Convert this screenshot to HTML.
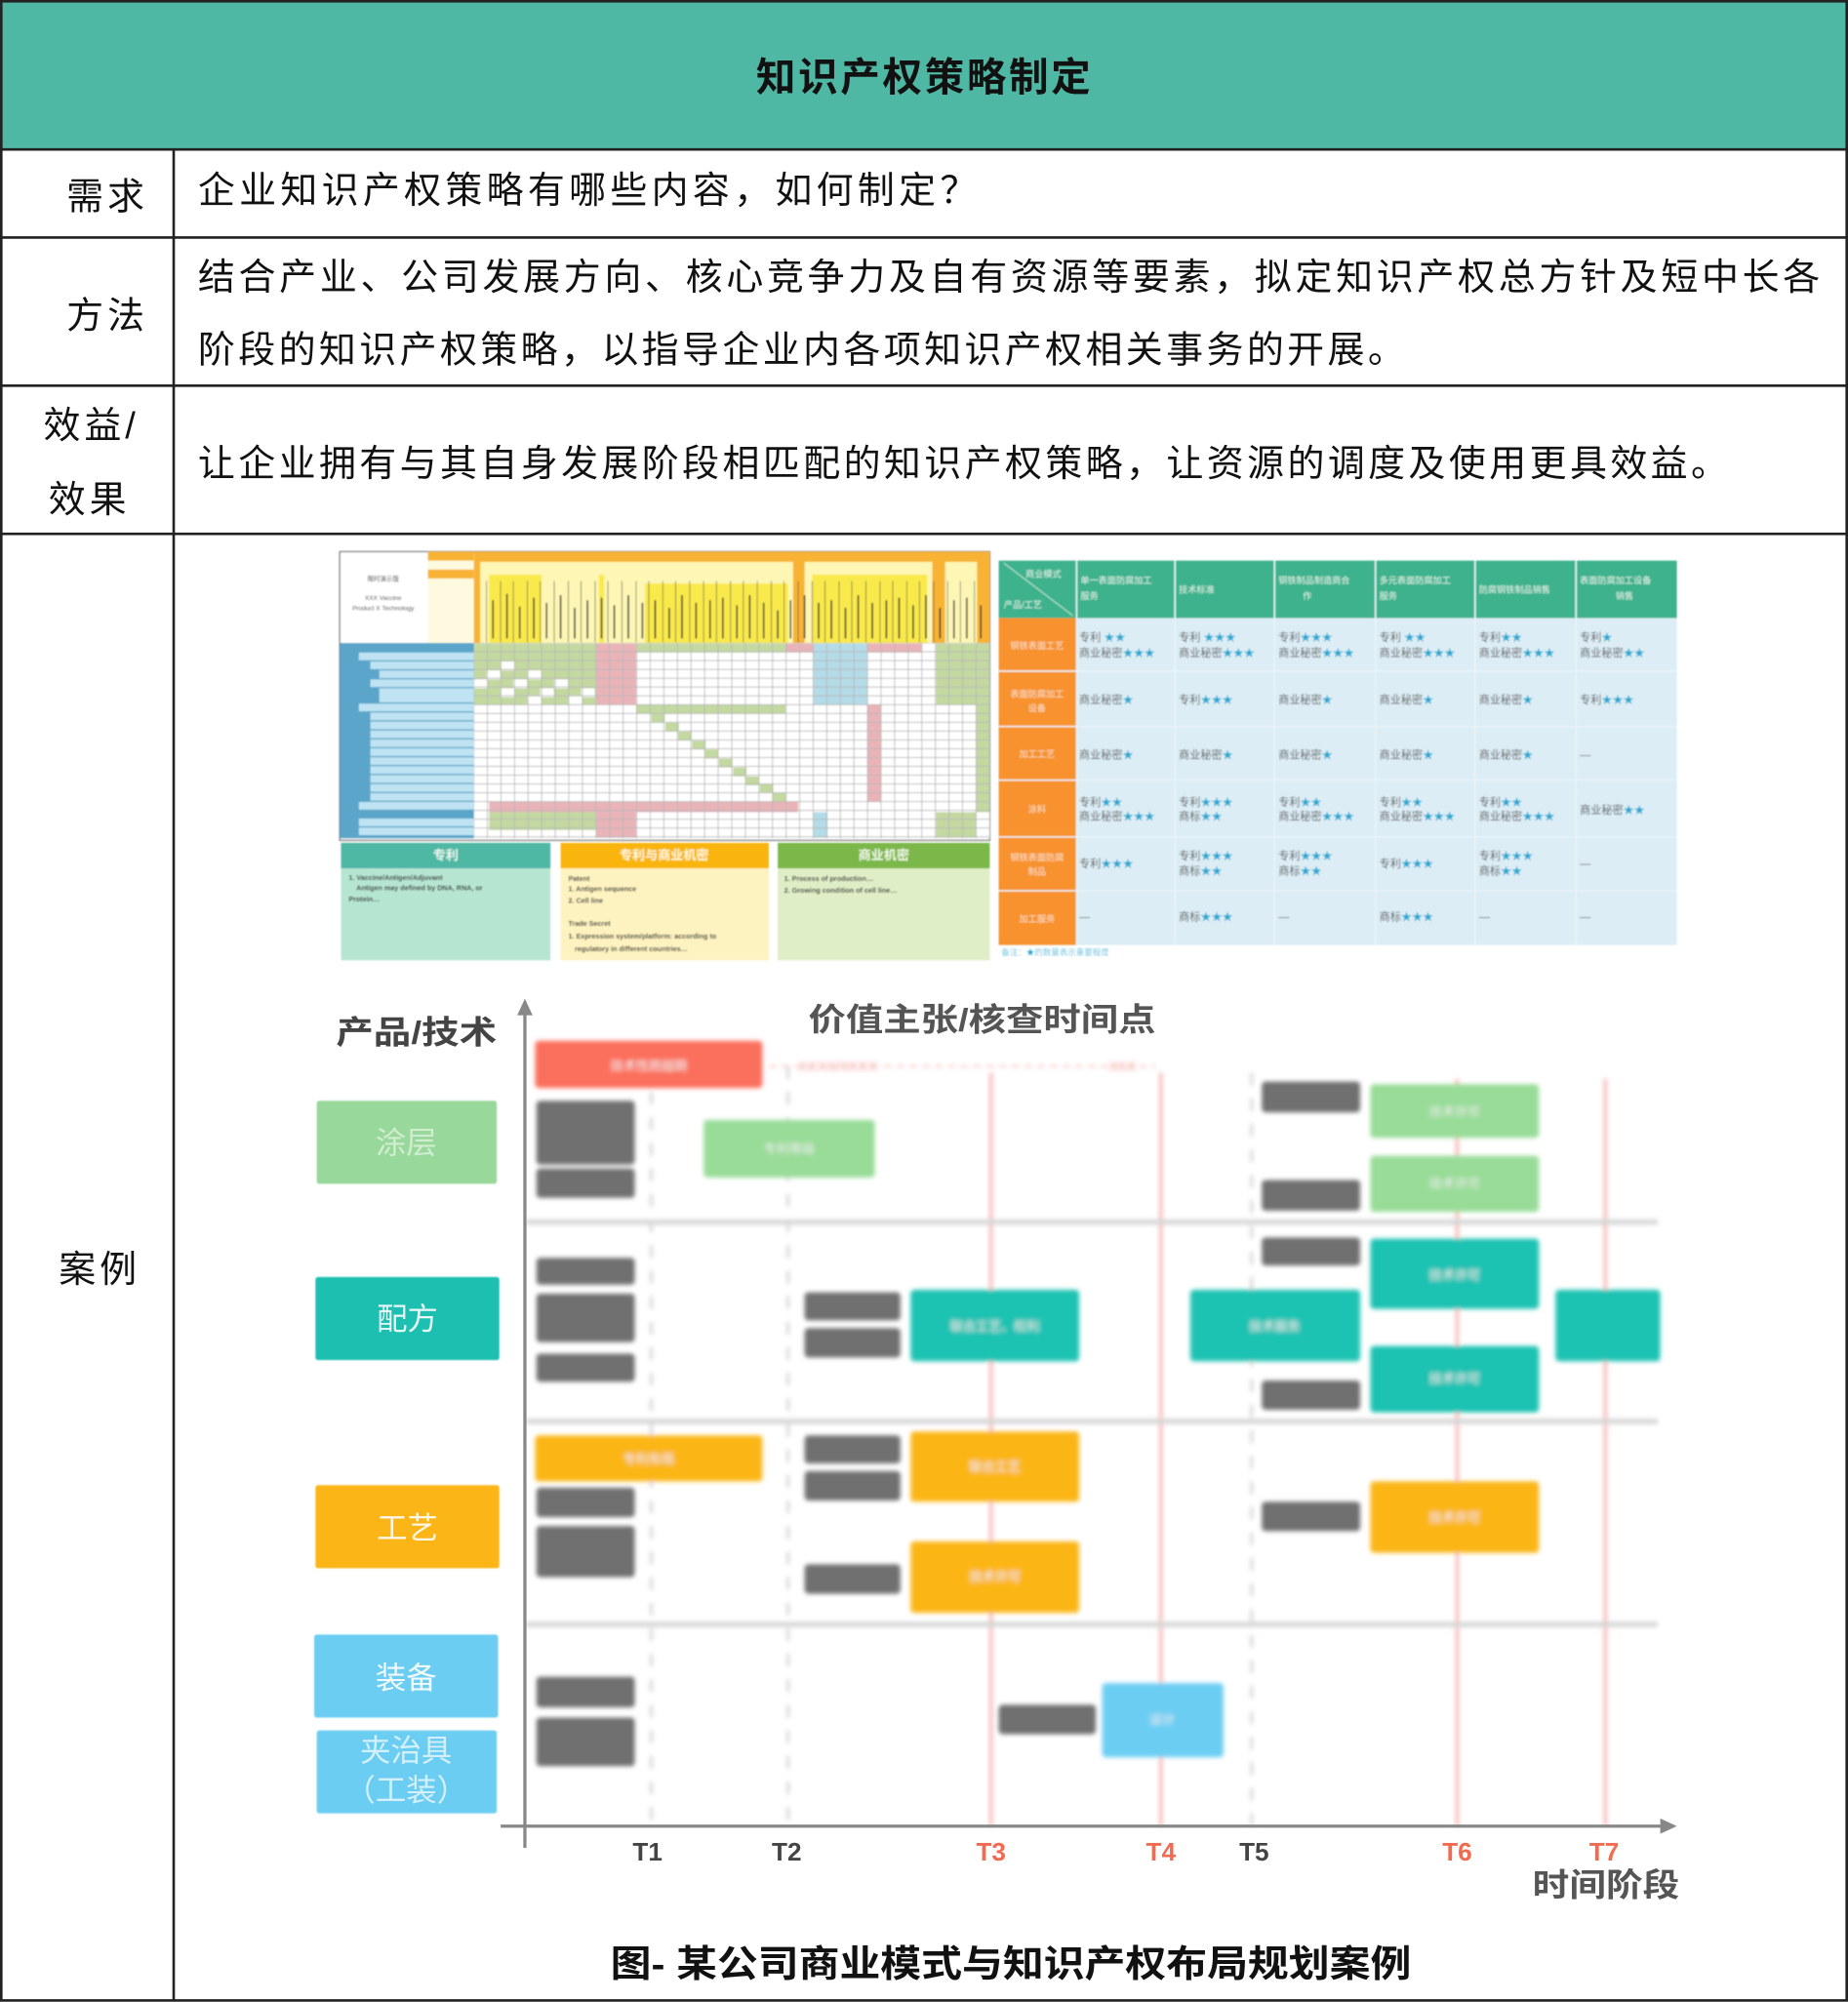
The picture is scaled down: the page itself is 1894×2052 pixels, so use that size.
<!DOCTYPE html>
<html><head><meta charset="utf-8"><style>
html,body{margin:0;padding:0;background:#fff;}
svg{display:block;}
text{font-family:"Liberation Sans","Noto Sans CJK SC",sans-serif;}
</style></head><body>
<svg width="1894" height="2052" viewBox="0 0 1447 1567.7" xmlns="http://www.w3.org/2000/svg">
<defs>
<filter id="bl" x="-10%" y="-30%" width="120%" height="160%"><feGaussianBlur stdDeviation="1.8"/></filter>
<filter id="bl2"><feGaussianBlur stdDeviation="0.6"/></filter>
<pattern id="grid" x="371" y="503.5" width="10.63" height="6.9" patternUnits="userSpaceOnUse">
<rect width="10.63" height="6.9" fill="none" stroke="#b8b8b8" stroke-width="0.7"/></pattern>
</defs>

<rect x="0" y="0" width="1447" height="117" fill="#4fb8a4"/>
<text x="724" y="71" text-anchor="middle" font-size="31" font-weight="bold" fill="#111" letter-spacing="2">知识产权策略制定</text>

<g stroke="#222" stroke-width="2" fill="none">
<rect x="1" y="1" width="1445" height="1565.5"/>
<line x1="0" y1="117" x2="1447" y2="117"/>
<line x1="0" y1="186" x2="1447" y2="186"/>
<line x1="0" y1="302" x2="1447" y2="302"/>
<line x1="0" y1="418" x2="1447" y2="418"/>
<line x1="136" y1="117" x2="136" y2="1567"/>
</g>

<g font-size="29" fill="#111">
<text x="52" y="164" textLength="61">需求</text>
<text x="52" y="257" textLength="61">方法</text>
<text x="34" y="343" textLength="72">效益/</text>
<text x="38" y="401" textLength="61">效果</text>
<text x="46" y="1004" textLength="61">案例</text>
<text x="155" y="159" textLength="610" lengthAdjust="spacing">企业知识产权策略有哪些内容，如何制定？</text>
<text x="155" y="227" textLength="1270" lengthAdjust="spacing">结合产业、公司发展方向、核心竞争力及自有资源等要素，拟定知识产权总方针及短中长各</text>
<text x="155" y="284" textLength="945" lengthAdjust="spacing">阶段的知识产权策略，以指导企业内各项知识产权相关事务的开展。</text>
<text x="155" y="373" textLength="1198" lengthAdjust="spacing">让企业拥有与其自身发展阶段相匹配的知识产权策略，让资源的调度及使用更具效益。</text>
</g>

<g filter="url(#bl2)">
<rect x="266" y="432" width="509" height="226" fill="#fff" stroke="#777" stroke-width="1"/>
<rect x="371" y="432" width="404" height="72" fill="#f8b334"/>
<rect x="376" y="440" width="245" height="64" fill="#fdf6b4"/>
<rect x="383" y="450" width="90" height="54" fill="#f9e94c"/>
<rect x="424" y="446" width="45" height="58" fill="#fdf6b4"/>
<rect x="500" y="446" width="120" height="58" fill="#fdf6b4"/>
<rect x="505" y="457" width="112" height="47" fill="#f9e94c"/>
<rect x="630" y="440" width="100" height="64" fill="#fdf6b4"/>
<rect x="636" y="450" width="90" height="54" fill="#f9e94c"/>
<rect x="740" y="440" width="25" height="64" fill="#fdf6b4"/>
<g stroke="#444" stroke-width="0.5">
<path d="M381 455V503M392 455V503M402 455V503M413 455V503M423 455V503M434 455V503M445 455V503M455 455V503M466 455V503M476 455V503M487 455V503M498 455V503M508 455V503M519 455V503M529 455V503M540 455V503M551 455V503M561 455V503M572 455V503M582 455V503M593 455V503M604 455V503M614 455V503M625 455V503M636 455V503M646 455V503M657 455V503M667 455V503M678 455V503M689 455V503M699 455V503M710 455V503M720 455V503M731 455V503M742 455V503M752 455V503M763 455V503"/>
</g>
<g stroke="#333" stroke-width="1.2">
<path d="M386 470V500M397 465V500M407 475V500M418 468V500M428 472V500M439 466V500M450 476V500M460 470V500M471 468V500M481 474V500M492 466V500M503 472V500M513 470V500M524 476V500M534 466V500M545 472V500M556 470V500M566 468V500M577 474V500M587 466V500M598 472V500M609 478V500M619 470V500M630 466V500M641 472V500M651 470V500M662 476V500M672 466V500M683 472V500M694 470V500M704 468V500M715 474V500M725 466V500M736 476V500M747 470V500M757 468V500M768 474V500"/>
</g>
<rect x="269" y="436" width="66" height="52" fill="#fff"/>
<rect x="335" y="432" width="36" height="72" fill="#fdfae0"/>
<rect x="335" y="432" width="36" height="7" fill="#f8b334"/>
<rect x="335" y="446" width="36" height="7" fill="#f8b334"/>
<text x="300" y="455" font-size="5" text-anchor="middle" fill="#333">限时演示版</text>
<text x="300" y="470" font-size="5" text-anchor="middle" fill="#333">XXX Vaccine</text>
<text x="300" y="478" font-size="5" text-anchor="middle" fill="#333">Product X Technology</text>
<rect x="266" y="503.5" width="105" height="153" fill="#5aa5c9"/>
<g fill="#bfe3f2">
<rect x="281" y="511" width="90" height="6"/><rect x="290" y="518" width="81" height="6"/><rect x="297" y="525" width="74" height="6"/><rect x="290" y="532" width="81" height="6"/><rect x="297" y="539" width="74" height="11"/>
<rect x="281" y="551" width="90" height="6"/><rect x="290" y="558" width="81" height="6"/><rect x="290" y="565" width="81" height="6"/><rect x="290" y="572" width="81" height="6"/><rect x="290" y="579" width="81" height="6"/><rect x="290" y="586" width="81" height="6"/><rect x="290" y="593" width="81" height="6"/><rect x="290" y="600" width="81" height="6"/><rect x="290" y="607" width="81" height="6"/><rect x="290" y="614" width="81" height="6"/><rect x="290" y="621" width="81" height="6"/>
<rect x="281" y="628" width="90" height="6"/><rect x="281" y="641" width="90" height="6"/><rect x="281" y="648" width="90" height="6"/>
</g>
<rect x="371" y="503.5" width="404" height="153" fill="#fff"/>
<g fill="#c3d9a0">
<rect x="371" y="504" width="96" height="48"/>
<rect x="498" y="504" width="117" height="7"/>
<rect x="733" y="504" width="42" height="48"/>
<rect x="764" y="504" width="11" height="132"/>
<rect x="498" y="552" width="117" height="7"/>
<rect x="383" y="636" width="84" height="14"/>
<rect x="733" y="636" width="31" height="20"/>
<rect x="510" y="559" width="10.6" height="7"/><rect x="521" y="566" width="10.6" height="7"/><rect x="531" y="573" width="10.6" height="7"/><rect x="542" y="580" width="10.6" height="7"/><rect x="552" y="587" width="10.6" height="7"/><rect x="563" y="594" width="10.6" height="7"/><rect x="574" y="601" width="10.6" height="7"/><rect x="584" y="608" width="10.6" height="7"/><rect x="595" y="614" width="10.6" height="7"/><rect x="605" y="621" width="10.6" height="7"/>
</g>
<g fill="#fff">
<rect x="392" y="518" width="10.6" height="7"/><rect x="413" y="525" width="10.6" height="7"/><rect x="434" y="532" width="10.6" height="7"/><rect x="455" y="539" width="10.6" height="7"/><rect x="381" y="525" width="10.6" height="7"/><rect x="402" y="532" width="10.6" height="7"/><rect x="423" y="539" width="10.6" height="7"/><rect x="445" y="545" width="10.6" height="7"/><rect x="371" y="532" width="10.6" height="7"/><rect x="392" y="539" width="10.6" height="7"/><rect x="413" y="545" width="10.6" height="7"/>
</g>
<g fill="#eab3b8">
<rect x="467" y="504" width="31" height="48"/>
<rect x="615" y="504" width="22" height="7"/>
<rect x="679" y="504" width="43" height="7"/>
<rect x="679" y="552" width="11" height="76"/>
<rect x="383" y="628" width="242" height="8"/>
<rect x="467" y="636" width="31" height="20"/>
</g>
<g fill="#b4dbe8">
<rect x="637" y="504" width="42" height="48"/>
<rect x="637" y="636" width="11" height="20"/>
</g>
<rect x="371" y="503.5" width="404" height="153" fill="url(#grid)"/>
<rect x="267" y="660" width="164" height="92" fill="#b6e6d2"/>
<rect x="267" y="660" width="164" height="20" fill="#4fb8a4"/>
<rect x="439" y="660" width="163" height="92" fill="#fdf3c0"/>
<rect x="439" y="660" width="163" height="20" fill="#f9b50d"/>
<rect x="609" y="660" width="166" height="92" fill="#dfeec6"/>
<rect x="609" y="660" width="166" height="20" fill="#7bb84a"/>
<text x="349" y="673" font-size="10" text-anchor="middle" fill="#e6f6ee" font-weight="bold">专利</text>
<text x="520" y="673" font-size="10" text-anchor="middle" fill="#fff6d6" font-weight="bold">专利与商业机密</text>
<text x="692" y="673" font-size="10" text-anchor="middle" fill="#eef6e4" font-weight="bold">商业机密</text>
<g font-size="5.5" fill="#333" font-weight="bold">
<text x="273" y="689">1.      Vaccine/Antigen/Adjuvant</text>
<text x="279" y="697">Antigen may defined by DNA, RNA, or</text>
<text x="273" y="706">Protein…</text>
<text x="445" y="690">Patent</text>
<text x="445" y="698">1. Antigen sequence</text>
<text x="445" y="707">2. Cell line</text>
<text x="445" y="725">Trade Secret</text>
<text x="445" y="735">1. Expression system/platform: according to</text>
<text x="450" y="745">regulatory in different countries…</text>
<text x="614" y="690">1. Process of production…</text>
<text x="614" y="699">2.  Growing condition of cell line…</text>
</g>
</g>

<g filter="url(#bl2)">
<rect x="782" y="439" width="531" height="301" fill="#dcedf5"/>
<rect x="782" y="439" width="531" height="45" fill="#3db28c"/>
<rect x="782" y="484" width="61" height="256" fill="#f7922e"/>
<g stroke="#eaf4f9" stroke-width="1.2">
<path d="M843 439V740M920 439V740M998 439V740M1077 439V740M1155 439V740M1234 439V740"/>
<path d="M782 525.6H1313M782 568.9H1313M782 610.9H1313M782 655.4H1313M782 697.5H1313"/>
</g>
<line x1="786" y1="441" x2="840" y2="482" stroke="#d8f0e6" stroke-width="0.6"/>
<g font-size="7" fill="#dff3ea">
<text x="803" y="452">商业模式</text><text x="786" y="476">产品/工艺</text>
<text x="846" y="457">单一表面防腐加工</text><text x="846" y="469">服务</text>
<text x="923" y="464">技术标准</text>
<text x="1001" y="457">钢铁制品制造商合</text><text x="1020" y="469">作</text>
<text x="1080" y="457">多元表面防腐加工</text><text x="1080" y="469">服务</text>
<text x="1158" y="464">防腐钢铁制品销售</text>
<text x="1237" y="457">表面防腐加工设备</text><text x="1265" y="469">销售</text>
</g>
<g font-size="7" fill="#fbe0c4" text-anchor="middle">
<text x="812" y="508">钢铁表面工艺</text><text x="812" y="546">表面防腐加工</text><text x="812" y="557">设备</text>
<text x="812" y="593">加工工艺</text><text x="812" y="636">涂料</text>
<text x="812" y="674">钢铁表面防腐</text><text x="812" y="685">制品</text><text x="812" y="722">加工服务</text>
</g>
<g font-size="8.5" fill="#555">
<text x="845" y="502">专利     <tspan fill="#29a9d2">★★</tspan></text><text x="845" y="514">商业秘密<tspan fill="#29a9d2">★★★</tspan></text>
<text x="923" y="502">专利 <tspan fill="#29a9d2">★★★</tspan></text><text x="923" y="514">商业秘密<tspan fill="#29a9d2">★★★</tspan></text>
<text x="1001" y="502">专利<tspan fill="#29a9d2">★★★</tspan></text><text x="1001" y="514">商业秘密<tspan fill="#29a9d2">★★★</tspan></text>
<text x="1080" y="502">专利 <tspan fill="#29a9d2">★★</tspan></text><text x="1080" y="514">商业秘密<tspan fill="#29a9d2">★★★</tspan></text>
<text x="1158" y="502">专利<tspan fill="#29a9d2">★★</tspan></text><text x="1158" y="514">商业秘密<tspan fill="#29a9d2">★★★</tspan></text>
<text x="1237" y="502">专利<tspan fill="#29a9d2">★</tspan></text><text x="1237" y="514">商业秘密<tspan fill="#29a9d2">★★</tspan></text>
<text x="845" y="551">商业秘密<tspan fill="#29a9d2">★</tspan></text>
<text x="923" y="551">专利<tspan fill="#29a9d2">★★★</tspan></text>
<text x="1001" y="551">商业秘密<tspan fill="#29a9d2">★</tspan></text>
<text x="1080" y="551">商业秘密<tspan fill="#29a9d2">★</tspan></text>
<text x="1158" y="551">商业秘密<tspan fill="#29a9d2">★</tspan></text>
<text x="1237" y="551">专利<tspan fill="#29a9d2">★★★</tspan></text>
<text x="845" y="594">商业秘密<tspan fill="#29a9d2">★</tspan></text>
<text x="923" y="594">商业秘密<tspan fill="#29a9d2">★</tspan></text>
<text x="1001" y="594">商业秘密<tspan fill="#29a9d2">★</tspan></text>
<text x="1080" y="594">商业秘密<tspan fill="#29a9d2">★</tspan></text>
<text x="1158" y="594">商业秘密<tspan fill="#29a9d2">★</tspan></text>
<text x="1237" y="594">—</text>
<text x="845" y="631">专利<tspan fill="#29a9d2">★★</tspan></text><text x="845" y="642">商业秘密<tspan fill="#29a9d2">★★★</tspan></text>
<text x="923" y="631">专利<tspan fill="#29a9d2">★★★</tspan></text><text x="923" y="642">商标<tspan fill="#29a9d2">★★</tspan></text>
<text x="1001" y="631">专利<tspan fill="#29a9d2">★★</tspan></text><text x="1001" y="642">商业秘密<tspan fill="#29a9d2">★★★</tspan></text>
<text x="1080" y="631">专利<tspan fill="#29a9d2">★★</tspan></text><text x="1080" y="642">商业秘密<tspan fill="#29a9d2">★★★</tspan></text>
<text x="1158" y="631">专利<tspan fill="#29a9d2">★★</tspan></text><text x="1158" y="642">商业秘密<tspan fill="#29a9d2">★★★</tspan></text>
<text x="1237" y="637">商业秘密<tspan fill="#29a9d2">★★</tspan></text>
<text x="845" y="679">专利<tspan fill="#29a9d2">★★★</tspan></text>
<text x="923" y="673">专利<tspan fill="#29a9d2">★★★</tspan></text><text x="923" y="685">商标<tspan fill="#29a9d2">★★</tspan></text>
<text x="1001" y="673">专利<tspan fill="#29a9d2">★★★</tspan></text><text x="1001" y="685">商标<tspan fill="#29a9d2">★★</tspan></text>
<text x="1080" y="679">专利<tspan fill="#29a9d2">★★★</tspan></text>
<text x="1158" y="673">专利<tspan fill="#29a9d2">★★★</tspan></text><text x="1158" y="685">商标<tspan fill="#29a9d2">★★</tspan></text>
<text x="1237" y="679">—</text>
<text x="845" y="721">—</text>
<text x="923" y="721">商标<tspan fill="#29a9d2">★★★</tspan></text>
<text x="1001" y="721">—</text>
<text x="1080" y="721">商标<tspan fill="#29a9d2">★★★</tspan></text>
<text x="1158" y="721">—</text>
<text x="1237" y="721">—</text>
</g>
<text x="784" y="748" font-size="6.5" fill="#7cc6e0">备注：<tspan fill="#29a9d2">★</tspan>的数量表示重要程度</text>
</g>

<text x="263" y="817" font-size="25" fill="#444" font-weight="bold" textLength="126" lengthAdjust="spacingAndGlyphs">产品/技术</text>
<text x="633" y="807" font-size="25" fill="#555" font-weight="bold" textLength="272" lengthAdjust="spacingAndGlyphs">价值主张/核查时间点</text>

<g filter="url(#bl)">
<g stroke="#cfcfcf" stroke-width="2" stroke-dasharray="10 10">
<line x1="510" y1="835" x2="510" y2="1430"/><line x1="617" y1="835" x2="617" y2="1430"/><line x1="980" y1="840" x2="980" y2="1430"/>
</g>
<g stroke="#f3b4b0" stroke-width="2.5">
<line x1="776" y1="840" x2="776" y2="1430"/><line x1="909" y1="840" x2="909" y2="1430"/><line x1="1141" y1="845" x2="1141" y2="1430"/><line x1="1257" y1="845" x2="1257" y2="1430"/>
</g>
<g stroke="#d5d5d5" stroke-width="4">
<line x1="412" y1="957" x2="1298" y2="957"/><line x1="412" y1="1113" x2="1298" y2="1113"/><line x1="412" y1="1272" x2="1298" y2="1272"/>
</g>
<line x1="602" y1="835" x2="905" y2="835" stroke="#f7c4bd" stroke-width="1.5" stroke-dasharray="6 4"/>
<text x="625" y="839" font-size="11" fill="#f5b0a8">XXXX/XXXX</text>
<text x="868" y="839" font-size="11" fill="#f5b0a8">XXX</text>
<rect x="419" y="815" width="178" height="37" rx="3" fill="#fb6f5b"/>
<g fill="#707070">
<rect x="420" y="862" width="77" height="50" rx="3"/><rect x="420" y="915" width="77" height="23" rx="3"/>
<rect x="420" y="985" width="77" height="21" rx="3"/><rect x="420" y="1013" width="77" height="38" rx="3"/><rect x="420" y="1060" width="77" height="22" rx="3"/>
<rect x="420" y="1165" width="77" height="23" rx="3"/><rect x="420" y="1195" width="77" height="40" rx="3"/>
<rect x="420" y="1313" width="77" height="24" rx="3"/><rect x="420" y="1345" width="77" height="38" rx="3"/>
<rect x="630" y="1012" width="75" height="22" rx="3"/><rect x="630" y="1040" width="75" height="23" rx="3"/>
<rect x="630" y="1124" width="75" height="22" rx="3"/><rect x="630" y="1152" width="75" height="23" rx="3"/>
<rect x="630" y="1225" width="75" height="23" rx="3"/>
<rect x="782" y="1335" width="76" height="23" rx="3"/>
<rect x="988" y="847" width="77" height="24" rx="3"/><rect x="988" y="924" width="77" height="24" rx="3"/>
<rect x="988" y="969" width="77" height="22" rx="3"/><rect x="988" y="1081" width="77" height="23" rx="3"/>
<rect x="988" y="1176" width="77" height="23" rx="3"/>
</g>
<g fill="#98dc98">
<rect x="551" y="877" width="134" height="45" rx="3"/>
<rect x="1073" y="849" width="132" height="42" rx="3"/><rect x="1073" y="905" width="132" height="44" rx="3"/>
</g>
<g fill="#1cc2b2">
<rect x="713" y="1010" width="132" height="56" rx="3"/>
<rect x="932" y="1010" width="133" height="56" rx="3"/>
<rect x="1073" y="970" width="132" height="55" rx="3"/><rect x="1073" y="1054" width="132" height="52" rx="3"/>
<rect x="1218" y="1010" width="82" height="56" rx="3"/>
</g>
<g fill="#fbb618">
<rect x="419" y="1124" width="178" height="36" rx="3"/>
<rect x="713" y="1121" width="132" height="55" rx="3"/><rect x="713" y="1207" width="132" height="56" rx="3"/>
<rect x="1073" y="1160" width="132" height="56" rx="3"/>
</g>
<rect x="863" y="1318" width="95" height="58" rx="3" fill="#6ccdf3"/>
<g font-size="10" fill="#eee" text-anchor="middle">
<text x="508" y="838">技术性跨越期</text><text x="618" y="903">专利等级</text><text x="779" y="1042">联合工艺、权利</text>
<text x="1139" y="874">技术许可</text><text x="1139" y="930">技术许可</text><text x="1139" y="1002">技术许可</text><text x="1139" y="1083">技术许可</text><text x="998" y="1042">技术服务</text>
<text x="508" y="1146">专利布局</text><text x="779" y="1152">联合工艺</text><text x="779" y="1238">技术许可</text><text x="1139" y="1192">技术许可</text><text x="910" y="1350">设计</text>
</g>
</g>

<g filter="url(#bl2)">
<rect x="248" y="862" width="141" height="65" rx="2" fill="#98d89a"/>
<rect x="247" y="1000" width="144" height="65" rx="2" fill="#1cbfb0"/>
<rect x="247" y="1163" width="144" height="65" rx="2" fill="#fbb516"/>
<rect x="246" y="1280" width="144" height="65" rx="2" fill="#6ccdf3"/>
<rect x="248" y="1355" width="141" height="65" rx="2" fill="#6ccdf3"/>
</g>
<g font-size="24" fill="#fff" text-anchor="middle" opacity="0.9">
<text x="318" y="903" fill="#d8f0d8">涂层</text>
<text x="319" y="1041">配方</text>
<text x="319" y="1205">工艺</text>
<text x="318" y="1322">装备</text>
<text x="318" y="1379" fill="#dff4fc">夹治具</text>
<text x="318" y="1410" fill="#dff4fc">（工装）</text>
</g>

<g stroke="#888" stroke-width="2.5" fill="none">
<line x1="411" y1="790" x2="411" y2="1447"/>
<line x1="392" y1="1430" x2="1305" y2="1430"/>
</g>
<path d="M405 795 L411 782 L417 795Z" fill="#888"/>
<path d="M1300 1424 L1313 1430 L1300 1436Z" fill="#888"/>
<g font-size="20" text-anchor="middle" font-weight="bold">
<text x="507" y="1457" fill="#444">T1</text><text x="616" y="1457" fill="#444">T2</text>
<text x="776" y="1457" fill="#f26b50">T3</text><text x="909" y="1457" fill="#f26b50">T4</text>
<text x="982" y="1457" fill="#444">T5</text><text x="1141" y="1457" fill="#f26b50">T6</text><text x="1256" y="1457" fill="#f26b50">T7</text>
</g>
<text x="1200" y="1485" font-size="25" fill="#555" font-weight="bold" textLength="115" lengthAdjust="spacingAndGlyphs">时间阶段</text>
<text x="478" y="1548" font-size="29" fill="#111" font-weight="bold" textLength="627" lengthAdjust="spacingAndGlyphs">图- 某公司商业模式与知识产权布局规划案例</text>
</svg>
</body></html>
